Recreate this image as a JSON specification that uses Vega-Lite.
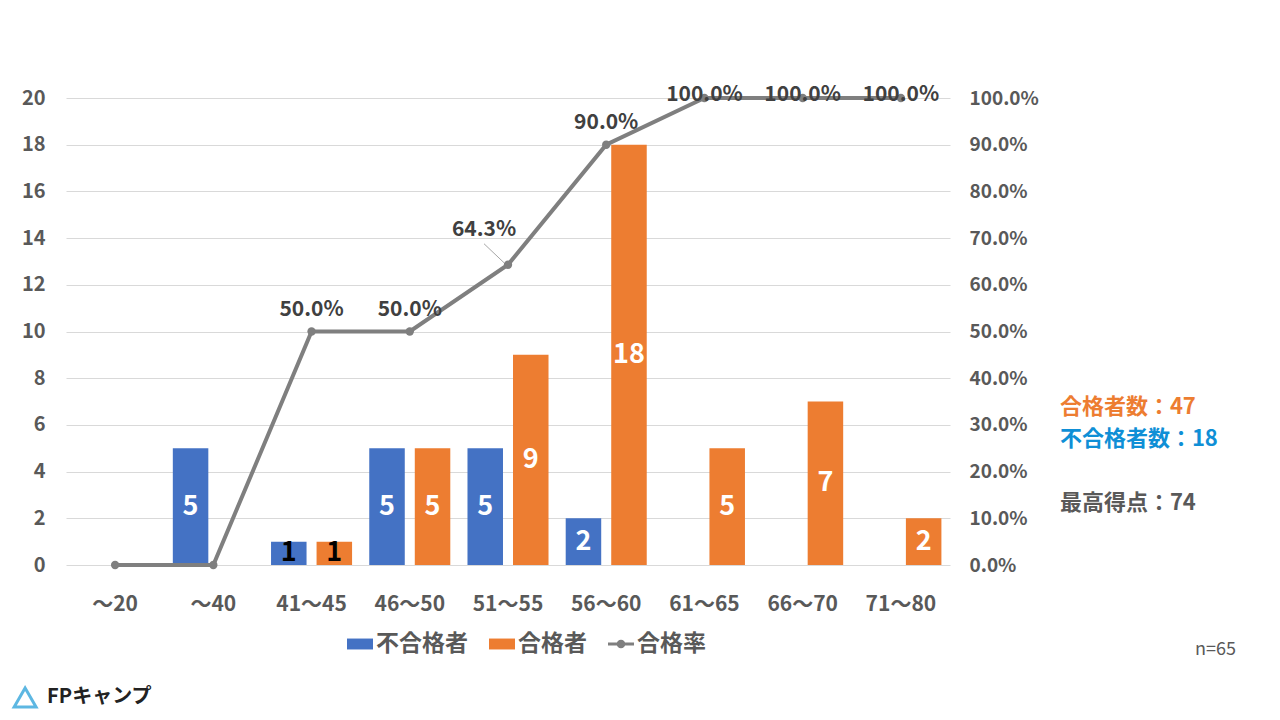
{
  "$schema": "https://vega.github.io/schema/vega-lite/v6.json",
  "width": 884,
  "height": 467,
  "autosize": "none",
  "padding": {"left": 66, "top": 98, "right": 330, "bottom": 155},
  "background": "white",
  "datasets": {
    "counts": [
      {"cat": "～20", "series": "不合格者", "count": 0},
      {"cat": "～20", "series": "合格者", "count": 0},
      {"cat": "～40", "series": "不合格者", "count": 5},
      {"cat": "～40", "series": "合格者", "count": 0},
      {"cat": "41～45", "series": "不合格者", "count": 1},
      {"cat": "41～45", "series": "合格者", "count": 1},
      {"cat": "46～50", "series": "不合格者", "count": 5},
      {"cat": "46～50", "series": "合格者", "count": 5},
      {"cat": "51～55", "series": "不合格者", "count": 5},
      {"cat": "51～55", "series": "合格者", "count": 9},
      {"cat": "56～60", "series": "不合格者", "count": 2},
      {"cat": "56～60", "series": "合格者", "count": 18},
      {"cat": "61～65", "series": "不合格者", "count": 0},
      {"cat": "61～65", "series": "合格者", "count": 5},
      {"cat": "66～70", "series": "不合格者", "count": 0},
      {"cat": "66～70", "series": "合格者", "count": 7},
      {"cat": "71～80", "series": "不合格者", "count": 0},
      {"cat": "71～80", "series": "合格者", "count": 2}
    ],
    "rate": [
      {"cat": "～20", "rate": 0},
      {"cat": "～40", "rate": 0},
      {"cat": "41～45", "rate": 0.5},
      {"cat": "46～50", "rate": 0.5},
      {"cat": "51～55", "rate": 0.643},
      {"cat": "56～60", "rate": 0.9},
      {"cat": "61～65", "rate": 1},
      {"cat": "66～70", "rate": 1},
      {"cat": "71～80", "rate": 1}
    ]
  },
  "layer": [
    {
      "data": {"name": "counts"},
      "mark": {"type": "bar"},
      "encoding": {
        "x": {
          "field": "cat",
          "type": "nominal",
          "scale": {
            "domain": ["～20", "～40", "41～45", "46～50", "51～55", "56～60", "61～65", "66～70", "71～80"],
            "paddingInner": 0.175,
            "paddingOuter": 0.0875
          },
          "axis": {
            "title": null,
            "labelAngle": 0,
            "ticks": false,
            "domain": false,
            "grid": false,
            "labelPadding": 28,
            "labelFontSize": 21,
            "labelFont": "Noto Sans CJK JP",
            "labelFontWeight": "bold",
            "labelColor": "#595959"
          }
        },
        "xOffset": {
          "field": "series",
          "type": "nominal",
          "sort": ["不合格者", "合格者"],
          "scale": {"paddingInner": 0.22, "paddingOuter": 0}
        },
        "y": {
          "field": "count",
          "type": "quantitative",
          "scale": {"domain": [0, 20], "nice": false},
          "axis": {
            "title": null,
            "values": [0, 2, 4, 6, 8, 10, 12, 14, 16, 18, 20],
            "ticks": false,
            "domain": false,
            "grid": true,
            "gridColor": "#d9d9d9",
            "labelPadding": 21,
            "labelFontSize": 20,
            "labelFont": "Noto Sans CJK JP",
            "labelFontWeight": "bold",
            "labelColor": "#595959"
          }
        },
        "color": {
          "field": "series",
          "type": "nominal",
          "scale": {
            "domain": ["不合格者", "合格者", "合格率"],
            "range": ["#4472c4", "#ed7d31", "#7f7f7f"]
          },
          "legend": {
            "orient": "none",
            "legendX": 281,
            "legendY": 533,
            "direction": "horizontal",
            "title": null,
            "symbolSize": 676,
            "labelFontSize": 23,
            "labelFont": "Noto Sans CJK JP",
            "labelFontWeight": "bold",
            "labelColor": "#595959",
            "labelOffset": 3,
            "columnPadding": 21,
            "encode": {
              "symbols": {
                "update": {
                  "shape": {"signal": "datum.value == '合格率' ? 'M-1,-0.12H1V0.12H-1Z M-0.33,0 A0.33,0.33 0 1,1 0.33,0 A0.33,0.33 0 1,1 -0.33,0Z' : 'M-1,-0.42H1V0.42H-1Z'"},
                  "fill": {"signal": "datum.value == '不合格者' ? '#4472c4' : datum.value == '合格者' ? '#ed7d31' : '#7f7f7f'"},
                  "strokeWidth": {"value": 0},
                  "opacity": {"value": 1}
                }
              }
            }
          }
        }
      }
    },
    {
      "data": {"name": "counts"},
      "transform": [{"filter": "datum.count > 0"}],
      "mark": {"type": "text", "font": "Noto Sans CJK JP", "fontWeight": "bold", "fontSize": 27, "baseline": "middle"},
      "encoding": {
        "x": {"field": "cat", "type": "nominal"},
        "xOffset": {"field": "series", "type": "nominal", "sort": ["不合格者", "合格者"]},
        "y": {"field": "count", "type": "quantitative", "scale": {"domain": [0, 40], "nice": false}, "axis": null},
        "text": {"field": "count", "type": "quantitative"},
        "color": {"condition": {"test": "datum.count == 1", "value": "#000000"}, "value": "#ffffff"}
      }
    },
    {
      "data": {"name": "rate"},
      "mark": {"type": "line", "strokeWidth": 4, "point": {"size": 70, "filled": true}},
      "encoding": {
        "x": {"field": "cat", "type": "nominal"},
        "y": {
          "field": "rate",
          "type": "quantitative",
          "scale": {"domain": [0, 1], "nice": false},
          "axis": {
            "orient": "right",
            "title": null,
            "format": ".1%",
            "values": [0, 0.1, 0.2, 0.3, 0.4, 0.5, 0.6, 0.7, 0.8, 0.9, 1],
            "ticks": false,
            "domain": false,
            "grid": false,
            "labelPadding": 19,
            "labelFontSize": 19,
            "labelFont": "Noto Sans CJK JP",
            "labelFontWeight": "bold",
            "labelColor": "#595959"
          }
        },
        "color": {"datum": "合格率"}
      }
    },
    {
      "data": {"name": "rate"},
      "transform": [{"filter": "datum.rate == 0.5 || datum.rate == 0.9"}],
      "mark": {"type": "text", "font": "Noto Sans CJK JP", "fontWeight": "bold", "fontSize": 21, "baseline": "middle", "dy": -22, "color": "#404040"},
      "encoding": {
        "x": {"field": "cat", "type": "nominal"},
        "y": {"field": "rate", "type": "quantitative", "scale": {"domain": [0, 1], "nice": false}, "axis": null},
        "text": {"field": "rate", "type": "quantitative", "format": ".1%"}
      }
    },
    {
      "data": {"name": "rate"},
      "transform": [{"filter": "datum.rate == 1"}],
      "mark": {"type": "text", "font": "Noto Sans CJK JP", "fontWeight": "bold", "fontSize": 21, "baseline": "middle", "dy": -3, "color": "#404040"},
      "encoding": {
        "x": {"field": "cat", "type": "nominal"},
        "y": {"field": "rate", "type": "quantitative", "scale": {"domain": [0, 1], "nice": false}, "axis": null},
        "text": {"field": "rate", "type": "quantitative", "format": ".1%"}
      }
    },
    {
      "data": {"name": "rate"},
      "transform": [{"filter": "datum.rate == 0.643"}],
      "mark": {"type": "text", "font": "Noto Sans CJK JP", "fontWeight": "bold", "fontSize": 21, "baseline": "middle", "dx": -24, "dy": -35, "color": "#404040"},
      "encoding": {
        "x": {"field": "cat", "type": "nominal"},
        "y": {"field": "rate", "type": "quantitative", "scale": {"domain": [0, 1], "nice": false}, "axis": null},
        "text": {"field": "rate", "type": "quantitative", "format": ".1%"}
      }
    },
    {
      "data": {"name": "rate"},
      "transform": [{"filter": "datum.rate == 0.643"}],
      "mark": {"type": "rule", "color": "#a6a6a6", "strokeWidth": 1, "xOffset": -4, "yOffset": -2, "x2Offset": -24, "y2Offset": -21},
      "encoding": {
        "x": {"field": "cat", "type": "nominal"},
        "x2": {"field": "cat"},
        "y": {"field": "rate", "type": "quantitative", "scale": {"domain": [0, 1], "nice": false}, "axis": null},
        "y2": {"field": "rate"}
      }
    },
    {
      "data": {"values": [{"label": "合格者数：47"}]},
      "mark": {"type": "text", "font": "Noto Sans CJK JP", "fontWeight": "bold", "fontSize": 22, "align": "left", "baseline": "middle", "dx": 159, "color": "#ed7d31"},
      "encoding": {
        "x": {"datum": "71～80"},
        "y": {"datum": 6.77, "type": "quantitative", "scale": {"domain": [0, 20], "nice": false}, "axis": null},
        "text": {"field": "label"}
      }
    },
    {
      "data": {"values": [{"label": "不合格者数：18"}]},
      "mark": {"type": "text", "font": "Noto Sans CJK JP", "fontWeight": "bold", "fontSize": 22, "align": "left", "baseline": "middle", "dx": 159, "color": "#0f8fd6"},
      "encoding": {
        "x": {"datum": "71～80"},
        "y": {"datum": 5.4, "type": "quantitative", "scale": {"domain": [0, 20], "nice": false}, "axis": null},
        "text": {"field": "label"}
      }
    },
    {
      "data": {"values": [{"label": "最高得点：74"}]},
      "mark": {"type": "text", "font": "Noto Sans CJK JP", "fontWeight": "bold", "fontSize": 22, "align": "left", "baseline": "middle", "dx": 159, "color": "#595959"},
      "encoding": {
        "x": {"datum": "71～80"},
        "y": {"datum": 2.66, "type": "quantitative", "scale": {"domain": [0, 20], "nice": false}, "axis": null},
        "text": {"field": "label"}
      }
    },
    {
      "data": {"values": [{"label": "n=65"}]},
      "mark": {"type": "text", "font": "Noto Sans CJK JP", "fontWeight": "normal", "fontSize": 18, "align": "right", "baseline": "middle", "dx": 335, "color": "#595959"},
      "encoding": {
        "x": {"datum": "71～80"},
        "y": {"datum": -3.64, "type": "quantitative", "scale": {"domain": [0, 20], "nice": false}, "axis": null},
        "text": {"field": "label"}
      }
    },
    {
      "data": {"values": [{"label": "FPキャンプ"}]},
      "mark": {"type": "text", "font": "Noto Sans CJK JP", "fontWeight": "bold", "fontSize": 20, "align": "left", "baseline": "middle", "dx": -68, "color": "#222222"},
      "encoding": {
        "x": {"datum": "～20"},
        "y": {"datum": -5.67, "type": "quantitative", "scale": {"domain": [0, 20], "nice": false}, "axis": null},
        "text": {"field": "label"}
      }
    },
    {
      "data": {"values": [{"label": "logo"}]},
      "mark": {"type": "point", "shape": "triangle-up", "filled": false, "size": 480, "strokeWidth": 3, "color": "#1a9ad6", "xOffset": -90},
      "encoding": {
        "x": {"datum": "～20"},
        "y": {"datum": -5.67, "type": "quantitative", "scale": {"domain": [0, 20], "nice": false}, "axis": null}
      }
    }
  ],
  "resolve": {"scale": {"y": "independent"}},
  "config": {
    "view": {"stroke": null}
  }
}
